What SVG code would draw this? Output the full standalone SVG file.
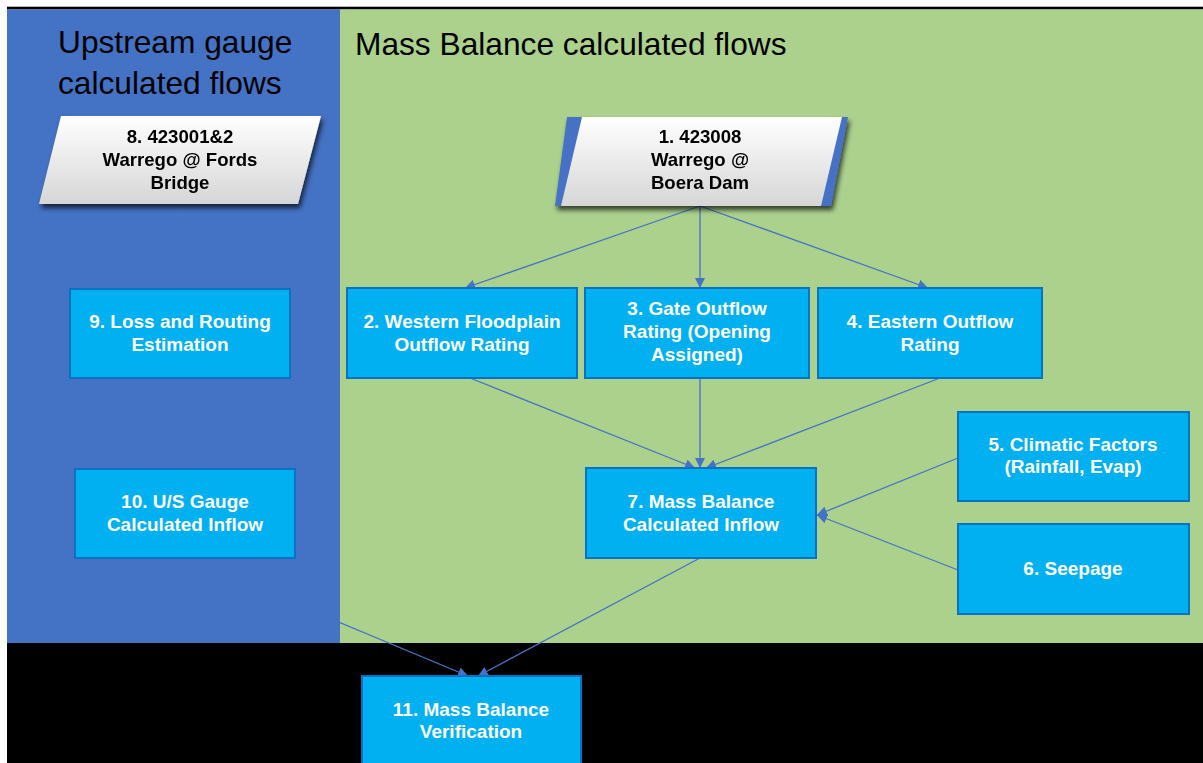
<svg xmlns="http://www.w3.org/2000/svg" width="1203" height="763" viewBox="0 0 1203 763">
  <style>
    .title { font-family: "Liberation Sans", Arial, sans-serif; font-size: 31.7px; fill: #000; }
    .box { fill: #00B0F0; stroke: #0A72C2; stroke-width: 2; }
    .lbl { font-family: "Liberation Sans", Arial, sans-serif; font-size: 19px; font-weight: bold; fill: #fff; text-anchor: middle; }
    .gauge { font-family: "Liberation Sans", Arial, sans-serif; font-size: 18.6px; font-weight: bold; fill: #000; text-anchor: middle; }
    .conn { stroke: #4674C5; stroke-width: 1.3; fill: none; marker-end: url(#arrow); }
  </style>
  <defs>
    <marker id="arrow" viewBox="0 0 10 10" refX="10" refY="5" markerWidth="10" markerHeight="10" markerUnits="userSpaceOnUse" orient="auto">
      <path d="M0,0 L10,5 L0,10 z" fill="#4472C4"/>
    </marker>
    <linearGradient id="paper" x1="0" y1="0" x2="0" y2="1">
      <stop offset="0" stop-color="#FFFFFF"/>
      <stop offset="1" stop-color="#D6D6D6"/>
    </linearGradient>
    <filter id="shadow" x="-10%" y="-10%" width="120%" height="130%">
      <feGaussianBlur in="SourceAlpha" stdDeviation="2.5"/>
      <feOffset dx="2" dy="4" result="b"/>
      <feComponentTransfer><feFuncA type="linear" slope="0.7"/></feComponentTransfer>
      <feMerge><feMergeNode/><feMergeNode in="SourceGraphic"/></feMerge>
    </filter>
  </defs>

  <!-- background bands -->
  <rect x="0" y="0" width="1203" height="763" fill="#fff"/>
  <rect x="7" y="6.7" width="1196" height="2.8" fill="#000"/>
  <rect x="7" y="9.5" width="333" height="633.5" fill="#4472C4"/>
  <rect x="340" y="9.5" width="863" height="633.5" fill="#ABD18D"/>
  <rect x="7" y="643" width="1196" height="120" fill="#000"/>

  <text class="title" x="58" y="53">Upstream gauge</text>
  <text class="title" x="58" y="94">calculated flows</text>
  <text class="title" x="355" y="55">Mass Balance calculated flows</text>

  <!-- connectors -->
  <g id="connectors">
    <line class="conn" x1="181" y1="206" x2="181" y2="288"/>
    <line class="conn" x1="181" y1="378" x2="183" y2="468"/>
    <line class="conn" x1="700" y1="206" x2="465" y2="288"/>
    <line class="conn" x1="700" y1="206" x2="700" y2="288"/>
    <line class="conn" x1="700" y1="206" x2="928" y2="288"/>
    <line class="conn" x1="470" y1="378" x2="695" y2="468"/>
    <line class="conn" x1="700" y1="378" x2="700" y2="468"/>
    <line class="conn" x1="940" y1="378" x2="706" y2="468"/>
    <line class="conn" x1="958" y1="458" x2="817" y2="515"/>
    <line class="conn" x1="958" y1="570" x2="817" y2="515"/>
    <line class="conn" x1="700" y1="558" x2="478" y2="676"/>
    <line class="conn" x1="185" y1="558" x2="468" y2="676"/>
  </g>

  <!-- gauge nodes -->
  <g id="node8" filter="url(#shadow)">
    <polygon points="61,116 321,116 298,204 39,204" fill="url(#paper)"/>
    <text class="gauge" x="180" y="143">8. 423001&amp;2</text>
    <text class="gauge" x="180" y="166">Warrego @ Fords</text>
    <text class="gauge" x="180" y="189">Bridge</text>
  </g>
  <g id="node1" filter="url(#shadow)">
    <polygon points="567,117 848,117 831,206 555,206" fill="#4472C4"/>
    <polygon points="582,117 842,117 821,206 561,206" fill="url(#paper)"/>
    <text class="gauge" x="700" y="143">1. 423008</text>
    <text class="gauge" x="700" y="166">Warrego @</text>
    <text class="gauge" x="700" y="189">Boera Dam</text>
  </g>

  <!-- process nodes -->
  <g id="node9">
    <rect class="box" x="70" y="289" width="220" height="89"/>
    <text class="lbl" x="180" y="328">9. Loss and Routing</text>
    <text class="lbl" x="180" y="351">Estimation</text>
  </g>
  <g id="node2">
    <rect class="box" x="347" y="288" width="230" height="90"/>
    <text class="lbl" x="462" y="328">2. Western Floodplain</text>
    <text class="lbl" x="462" y="351">Outflow Rating</text>
  </g>
  <g id="node3">
    <rect class="box" x="585" y="288" width="224" height="90"/>
    <text class="lbl" x="697" y="315">3. Gate Outflow</text>
    <text class="lbl" x="697" y="338">Rating (Opening</text>
    <text class="lbl" x="697" y="361">Assigned)</text>
  </g>
  <g id="node4">
    <rect class="box" x="818" y="288" width="224" height="90"/>
    <text class="lbl" x="930" y="328">4. Eastern Outflow</text>
    <text class="lbl" x="930" y="351">Rating</text>
  </g>
  <g id="node5">
    <rect class="box" x="958" y="412" width="231" height="89"/>
    <text class="lbl" x="1073" y="451">5. Climatic Factors</text>
    <text class="lbl" x="1073" y="473">(Rainfall, Evap)</text>
  </g>
  <g id="node6">
    <rect class="box" x="958" y="524" width="231" height="90"/>
    <text class="lbl" x="1073" y="575">6. Seepage</text>
  </g>
  <g id="node7">
    <rect class="box" x="586" y="468" width="230" height="90"/>
    <text class="lbl" x="701" y="508">7. Mass Balance</text>
    <text class="lbl" x="701" y="531">Calculated Inflow</text>
  </g>
  <g id="node10">
    <rect class="box" x="75" y="469" width="220" height="89"/>
    <text class="lbl" x="185" y="508">10. U/S Gauge</text>
    <text class="lbl" x="185" y="531">Calculated Inflow</text>
  </g>
  <g id="node11">
    <rect class="box" x="362" y="676" width="219" height="100"/>
    <text class="lbl" x="471" y="716">11. Mass Balance</text>
    <text class="lbl" x="471" y="738">Verification</text>
  </g>
</svg>
